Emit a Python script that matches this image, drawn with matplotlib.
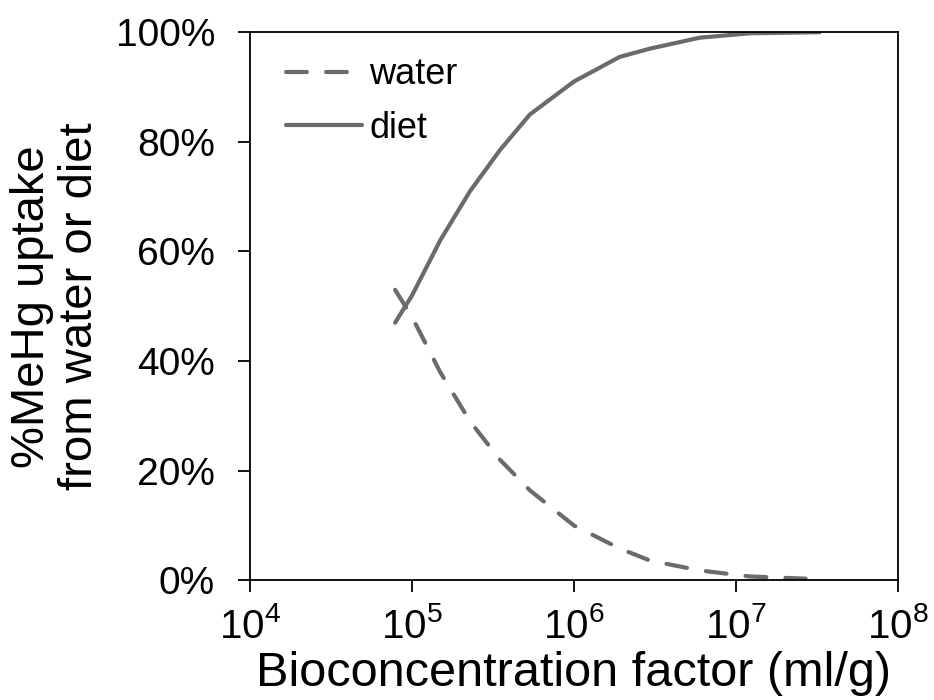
import matplotlib
matplotlib.use("Agg")
import matplotlib.pyplot as plt
from matplotlib.ticker import FuncFormatter, LogLocator, NullLocator

plt.rcParams['font.family'] = ['Liberation Sans', 'DejaVu Sans']
plt.rcParams['mathtext.fontset'] = 'custom'
plt.rcParams['mathtext.rm'] = 'Liberation Sans'
plt.rcParams['mathtext.it'] = 'Liberation Sans'

# Bioconcentration factor (ml/g)
bcf_diet = [7.85e4, 1.0e5, 1.49e5, 2.28e5, 3.49e5, 5.35e5, 1.0e6, 1.92e6, 2.95e6, 6.0e6, 1.22e7, 3.3e7]
diet = [47, 52, 62, 71, 78.5, 85, 91, 95.5, 97, 99, 99.8, 100]

bcf_water = [7.85e4, 1.0e5, 1.49e5, 2.28e5, 3.49e5, 5.35e5, 1.0e6, 1.92e6, 2.95e6, 6.0e6, 1.22e7, 2.7e7]
water = [53, 48, 38, 29, 22, 16.4, 10, 5.8, 3.6, 1.8, 0.7, 0.3]

fig = plt.figure(figsize=(9.34, 7), dpi=100)
ax = fig.add_axes([0.268, 0.171, 0.693, 0.783])

gray = "#6b6b6b"
ax.plot(bcf_water, water, color=gray, lw=3, ls=(0, (5, 4.6)), dash_capstyle="round",
        solid_capstyle="round", label="water")
ax.plot(bcf_diet, diet, color=gray, lw=3, solid_capstyle="round", label="diet")

ax.set_xscale("log")
ax.set_xlim(1e4, 1e8)
ax.set_ylim(0, 100)
ax.xaxis.set_major_locator(LogLocator(base=10, numticks=10))
ax.xaxis.set_minor_locator(NullLocator())
ax.set_yticks([0, 20, 40, 60, 80, 100])
ax.yaxis.set_major_formatter(FuncFormatter(lambda v, p: f"{v:.0f}%"))

ax.tick_params(axis="both", direction="out", length=8.5, width=1.3, labelsize=28)
ax.tick_params(axis="y", pad=17)
ax.tick_params(axis="x", pad=11, labelsize=29)
for s in ax.spines.values():
    s.set_linewidth(1.3)

ax.set_xlabel("Bioconcentration factor (ml/g)", fontsize=35, labelpad=3)
ax.set_ylabel("%MeHg uptake\nfrom water or diet", fontsize=34, labelpad=10, linespacing=1.12)

leg = ax.legend(loc="upper left", bbox_to_anchor=(0.016, 1.0), frameon=False, fontsize=26,
                handlelength=2.1, handletextpad=0.2, borderaxespad=0.3, borderpad=0.4,
                labelspacing=0.5)

fig.savefig("out.png", dpi=100)
